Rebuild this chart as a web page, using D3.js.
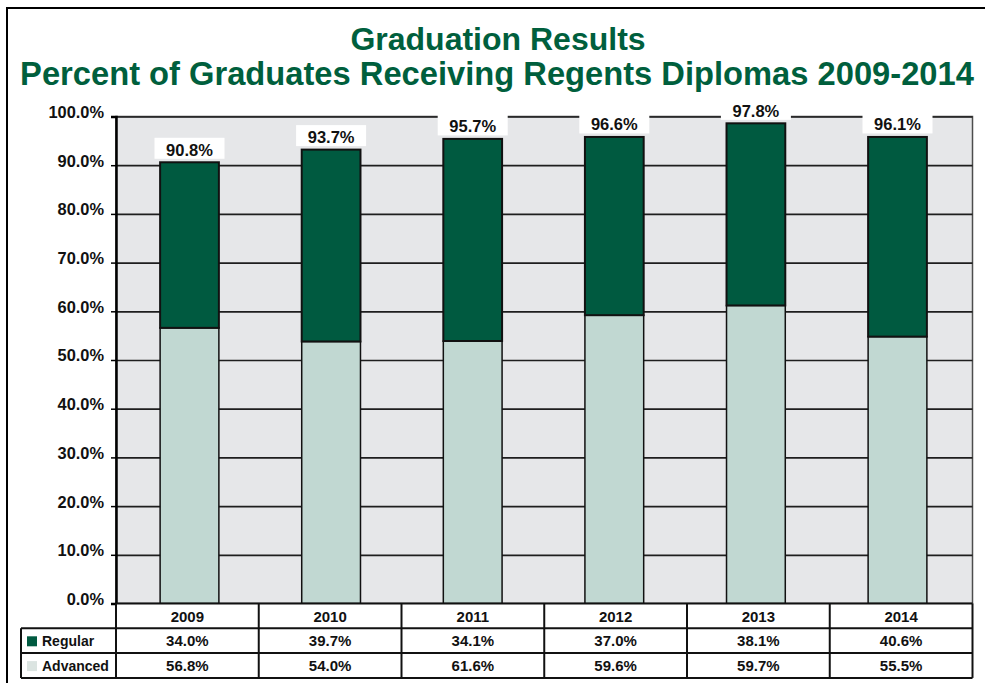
<!DOCTYPE html>
<html>
<head>
<meta charset="utf-8">
<script src="https://cdn.jsdelivr.net/npm/d3@7"></script>
<style>
  body { margin: 0; background: #fff; }
  text { font-family: "Liberation Sans", Arial, sans-serif; font-weight: bold; }
</style>
</head>
<body>
<script>
// table values
const years = ['2009', '2010', '2011', '2012', '2013', '2014'];
const regularPct = [34.0, 39.7, 34.1, 37.0, 38.1, 40.6];
const advancedPct = [56.8, 54.0, 61.6, 59.6, 59.7, 55.5];
const totalLabels = ['90.8%', '93.7%', '95.7%', '96.6%', '97.8%', '96.1%'];
// bar heights as drawn in the picture (they do not quite follow the table)
const barAdvanced = [56.6, 53.8, 53.9, 59.2, 61.2, 54.8];
const barRegular = [34.0, 39.4, 41.5, 36.6, 37.4, 41.0];
const yTicks = [0, 10, 20, 30, 40, 50, 60, 70, 80, 90, 100];
const seriesNames = ['Regular', 'Advanced'];

const WIDTH = 985;
const HEIGHT = 683;
const PLOT_LEFT = 116;
const PLOT_RIGHT = 972.5;
const PLOT_TOP = 116.5;
const PLOT_BOTTOM = 603.5;
const ROW_H = 24.8;
const LEGEND_LEFT = 21;

const DARK = '#005a40';
const LIGHT = '#c1d8d2';
const SWATCH_LIGHT = '#dbe4e1';
const TITLE_GREEN = '#005f3d';

// table columns
var xCol = d3.scaleBand()
    .domain(years)
    .range([PLOT_LEFT, PLOT_RIGHT]);

// bars sit a touch narrower than the table columns
var x = d3.scaleBand()
    .domain(years)
    .range([118.7, 968.3])
    .paddingInner(0.585)
    .paddingOuter(0.2925);

var y = d3.scaleLinear()
    .domain([0, 100])
    .range([PLOT_BOTTOM, PLOT_TOP]);

var svg = d3.select('body').append('svg')
    .attr('width', WIDTH)
    .attr('height', HEIGHT);

// page frame
svg.append('path')
    .attr('d', 'M7,' + HEIGHT + 'V8H' + WIDTH)
    .attr('fill', 'none')
    .attr('stroke', '#000')
    .attr('stroke-width', 2);

// titles
svg.append('text')
    .attr('x', 498)
    .attr('y', 50)
    .attr('text-anchor', 'middle')
    .attr('fill', TITLE_GREEN)
    .style('font-size', '32px')
    .text('Graduation Results');

svg.append('text')
    .attr('x', 497)
    .attr('y', 85)
    .attr('text-anchor', 'middle')
    .attr('fill', TITLE_GREEN)
    .style('font-size', '32.7px')
    .text('Percent of Graduates Receiving Regents Diplomas 2009-2014');

// plot background
svg.append('rect')
    .attr('x', PLOT_LEFT)
    .attr('y', PLOT_TOP)
    .attr('width', PLOT_RIGHT - PLOT_LEFT)
    .attr('height', PLOT_BOTTOM - PLOT_TOP)
    .attr('fill', '#e6e7e9')
    .attr('stroke', '#4d4d4d')
    .attr('stroke-width', 1.5);

// gridlines
var grid = svg.append('g')
    .attr('transform', 'translate(' + PLOT_LEFT + ',0)')
    .call(d3.axisLeft(y).tickValues(yTicks).tickSize(-(PLOT_RIGHT - PLOT_LEFT)).tickFormat(''));
grid.select('.domain').remove();
grid.selectAll('line').attr('stroke', '#1e1e1e').attr('stroke-width', 1.7);

// y axis
var yAxis = svg.append('g')
    .attr('transform', 'translate(' + PLOT_LEFT + ',0)')
    .call(d3.axisLeft(y).tickValues(yTicks).tickSize(5).tickPadding(7)
        .tickFormat(function(d) { return d.toFixed(1) + '%'; }));
yAxis.select('.domain').attr('stroke', '#000').attr('stroke-width', 2.5);
yAxis.selectAll('line').attr('stroke', '#000').attr('stroke-width', 1.5);
yAxis.selectAll('text')
    .attr('fill', '#111')
    .attr('dy', '0.06em')
    .style('font-size', '16.4px')
    .style('font-family', '"Liberation Sans", Arial, sans-serif')
    .style('font-weight', 'bold');

// stacked bars
var bars = svg.append('g');
bars.selectAll('.adv').data(years)
    .enter().append('rect')
    .attr('class', 'adv')
    .attr('x', function(d) { return x(d); })
    .attr('width', x.bandwidth())
    .attr('y', function(d, i) { return y(barAdvanced[i]); })
    .attr('height', function(d, i) { return y(0) - y(barAdvanced[i]); })
    .attr('fill', LIGHT)
    .attr('stroke', '#111')
    .attr('stroke-width', 1.5);

bars.selectAll('.reg').data(years)
    .enter().append('rect')
    .attr('class', 'reg')
    .attr('x', function(d) { return x(d); })
    .attr('width', x.bandwidth())
    .attr('y', function(d, i) { return y(barAdvanced[i] + barRegular[i]); })
    .attr('height', function(d, i) { return y(barAdvanced[i]) - y(barAdvanced[i] + barRegular[i]); })
    .attr('fill', DARK)
    .attr('stroke', '#111')
    .attr('stroke-width', 2);

// total labels
var labels = svg.append('g').selectAll('g').data(years)
    .enter().append('g')
    .attr('transform', function(d, i) {
        var top = y(barAdvanced[i] + barRegular[i]);
        return 'translate(' + (x(d) + x.bandwidth() / 2) + ',' + (top - 3.5) + ')';
    });
labels.append('rect')
    .attr('x', -35)
    .attr('y', -21)
    .attr('width', 70)
    .attr('height', 21)
    .attr('fill', '#fff');
labels.append('text')
    .attr('y', -3)
    .attr('text-anchor', 'middle')
    .attr('fill', '#111')
    .style('font-size', '16.5px')
    .text(function(d, i) { return totalLabels[i]; });

// data table
var rowTops = [PLOT_BOTTOM, PLOT_BOTTOM + ROW_H, PLOT_BOTTOM + 2 * ROW_H];
var tbl = svg.append('g');
tbl.append('rect')
    .attr('x', PLOT_LEFT)
    .attr('y', rowTops[0])
    .attr('width', PLOT_RIGHT - PLOT_LEFT)
    .attr('height', 3 * ROW_H)
    .attr('fill', '#fff');
tbl.append('rect')
    .attr('x', LEGEND_LEFT)
    .attr('y', rowTops[1])
    .attr('width', PLOT_LEFT - LEGEND_LEFT)
    .attr('height', 2 * ROW_H)
    .attr('fill', '#fff');

var lines = [];
lines.push([PLOT_LEFT, rowTops[0], PLOT_RIGHT, rowTops[0]]);
lines.push([LEGEND_LEFT, rowTops[1], PLOT_RIGHT, rowTops[1]]);
lines.push([LEGEND_LEFT, rowTops[2], PLOT_RIGHT, rowTops[2]]);
lines.push([LEGEND_LEFT, rowTops[2] + ROW_H, PLOT_RIGHT, rowTops[2] + ROW_H]);
lines.push([LEGEND_LEFT, rowTops[1], LEGEND_LEFT, rowTops[2] + ROW_H]);
years.forEach(function(d) {
    lines.push([xCol(d), rowTops[0], xCol(d), rowTops[2] + ROW_H]);
});
lines.push([PLOT_RIGHT, rowTops[0], PLOT_RIGHT, rowTops[2] + ROW_H]);
tbl.selectAll('line').data(lines)
    .enter().append('line')
    .attr('x1', function(d) { return d[0]; })
    .attr('y1', function(d) { return d[1]; })
    .attr('x2', function(d) { return d[2]; })
    .attr('y2', function(d) { return d[3]; })
    .attr('stroke', '#111')
    .attr('stroke-width', 2);

var cx = function(d) { return xCol(d) + xCol.bandwidth() / 2; };
tbl.selectAll('.hdr').data(years)
    .enter().append('text')
    .attr('class', 'hdr')
    .attr('x', cx)
    .attr('y', rowTops[0] + 18)
    .attr('text-anchor', 'middle')
    .style('font-size', '15px')
    .attr('fill', '#111')
    .text(function(d) { return d; });

var rowsData = [regularPct, advancedPct];
rowsData.forEach(function(vals, r) {
    tbl.selectAll('.row' + r).data(years)
        .enter().append('text')
        .attr('class', 'row' + r)
        .attr('x', cx)
        .attr('y', rowTops[r + 1] + 18)
        .attr('text-anchor', 'middle')
        .style('font-size', '15px')
        .attr('fill', '#111')
        .text(function(d, i) { return vals[i].toFixed(1) + '%'; });
});

// legend cells
var legend = tbl.selectAll('.leg').data(seriesNames)
    .enter().append('g')
    .attr('class', 'leg')
    .attr('transform', function(d, i) { return 'translate(' + LEGEND_LEFT + ',' + rowTops[i + 1] + ')'; });
legend.append('rect')
    .attr('x', 6)
    .attr('y', 8)
    .attr('width', 10)
    .attr('height', 10)
    .attr('fill', function(d, i) { return i === 0 ? DARK : SWATCH_LIGHT; });
legend.append('text')
    .attr('x', 21)
    .attr('y', 18)
    .style('font-size', '14px')
    .attr('fill', '#111')
    .text(function(d) { return d; });
</script>
</body>
</html>
